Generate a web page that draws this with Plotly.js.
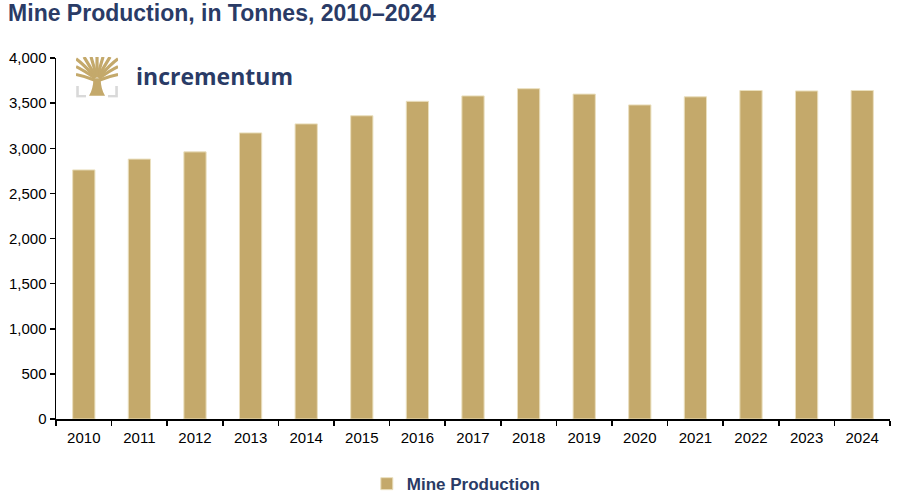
<!DOCTYPE html>
<html>
<head>
<meta charset="utf-8">
<script src="https://cdn.plot.ly/plotly-3.0.1.min.js"></script>
<style>html,body{margin:0;padding:0;background:#fff;}#chart{width:900px;height:494px;}</style>
</head>
<body>
<div id="chart"></div>
<script>
const years = ['2010','2011','2012','2013','2014','2015','2016','2017','2018','2019','2020','2021','2022','2023','2024'];
const mineProduction = [2760, 2880, 2960, 3170, 3270, 3360, 3520, 3580, 3660, 3600, 3480, 3570, 3640, 3635, 3640];
const yTickVals = [0, 500, 1000, 1500, 2000, 2500, 3000, 3500, 4000];

const gold = '#c4a96b';
const navy = '#2a3b66';

const treeSvg = `<svg xmlns="http://www.w3.org/2000/svg" viewBox="0 0 42 42" width="42" height="42">
<polyline points="1.5,30 1.5,40.5 10,40.5" fill="none" stroke="#d9d9d9" stroke-width="2.6"/>
<polyline points="40.5,30 40.5,40.5 32,40.5" fill="none" stroke="#d9d9d9" stroke-width="2.6"/>
<g stroke="${gold}" stroke-width="3.2" fill="none" stroke-linecap="butt">
<path d="M19,24 Q10,20 0,18"/><path d="M23,24 Q32,20 42,18"/>
<path d="M19,22 Q8,14 0,10"/><path d="M23,22 Q34,14 42,10"/>
<path d="M19,21 Q8,8 0,2"/><path d="M23,21 Q34,8 42,2"/>
<path d="M20,21 Q14,10 8,0"/><path d="M22,21 Q28,10 34,0"/>
<path d="M20.5,21 Q18,10 15,0"/><path d="M21.5,21 Q24,10 27,0"/>
<path d="M21,21 L21,0"/>
</g>
<path d="M13,40 L29,40 Q25,34 24.5,22 L17.5,22 Q17,34 13,40 Z" fill="${gold}"/>
</svg>`;
const treeUri = 'data:image/svg+xml;base64,' + btoa(treeSvg);

const trace = {
  type: 'bar',
  x: years,
  y: mineProduction,
  name: 'Mine Production',
  marker: {color: gold, line: {color: '#eadfbe', width: 1}},
  width: 0.4,
  hoverinfo: 'x+y'
};

const layout = {
  width: 900, height: 494,
  margin: {l: 56, r: 10, t: 58, b: 75},
  paper_bgcolor: '#ffffff', plot_bgcolor: '#ffffff',
  font: {family: 'Liberation Sans, Arial, sans-serif', size: 15, color: '#000'},
  title: {
    text: '<b>Mine Production, in Tonnes, 2010–2024</b>',
    x: 0.009, xanchor: 'left', xref: 'container',
    y: 0.974, yanchor: 'middle', yref: 'container',
    font: {family: 'Liberation Sans, Arial, sans-serif', size: 23, color: navy}
  },
  xaxis: {
    type: 'category',
    showline: true, linecolor: '#000', linewidth: 1.5,
    ticks: 'outside', ticklen: 5, tickcolor: '#000', tickwidth: 1.5,
    tickson: 'boundaries', ticklabelstandoff: 4,
    showgrid: false, zeroline: false,
    tickfont: {size: 15, color: '#000'}
  },
  yaxis: {
    range: [0, 4000],
    tickvals: yTickVals,
    tickformat: ',d',
    showline: true, linecolor: '#000', linewidth: 1.5,
    ticks: 'outside', ticklen: 5, tickcolor: '#000', tickwidth: 1.5,
    showgrid: false, zeroline: false,
    tickfont: {size: 15, color: '#000'}
  },
  showlegend: true,
  legend: {
    orientation: 'h', x: 0.48, xanchor: 'center',
    y: 0.02, yref: 'container', yanchor: 'middle',
    font: {size: 17, color: navy, family: 'Liberation Sans, Arial, sans-serif', weight: 'bold'}
  },
  images: [{
    source: treeUri, xref: 'paper', yref: 'paper',
    x: 0.024, y: 1.003, sizex: 0.0504, sizey: 0.113,
    xanchor: 'left', yanchor: 'top', sizing: 'stretch', layer: 'above'
  }],
  annotations: [{
    text: 'incrementum', xref: 'paper', yref: 'paper',
    x: 0.0935, y: 0.95, xanchor: 'left', yanchor: 'middle', showarrow: false,
    font: {family: 'Open Sans, Lato, sans-serif', size: 23, color: navy, weight: 'bold'}
  }],
  bargap: 0.6
};

Plotly.newPlot('chart', [trace], layout, {displayModeBar: false, staticPlot: true});
</script>
</body>
</html>
